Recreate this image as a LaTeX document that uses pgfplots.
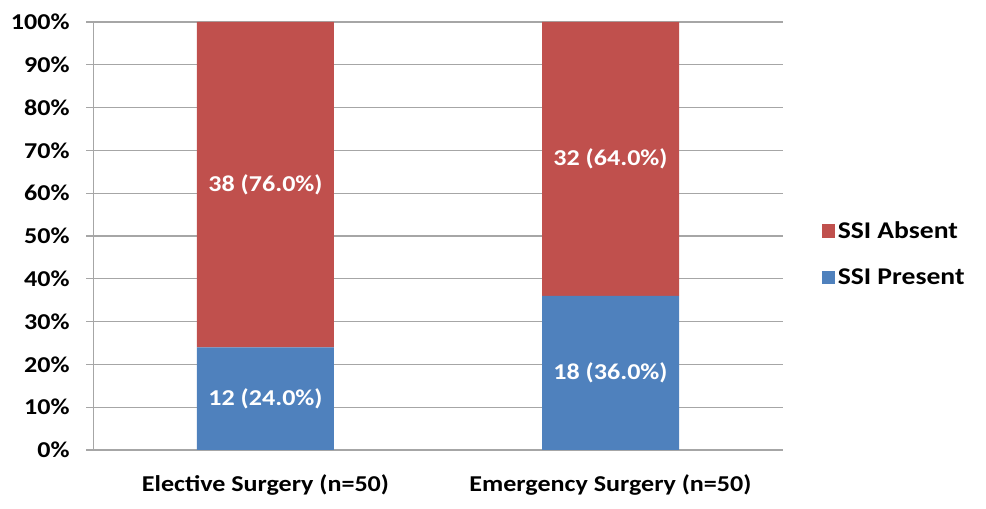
\documentclass[border=0pt]{standalone}
\usepackage{pgfplots}
\pgfplotsset{compat=1.18}
\usepackage{fontspec}
\setmainfont{Carlito}[FakeStretch=1.15]
\definecolor{ssired}{HTML}{C0504D}
\definecolor{ssiblue}{HTML}{4F81BD}
\definecolor{gridgray}{HTML}{A6A6A6}
\begin{document}
\begin{tikzpicture}
\begin{axis}[
  scale only axis, width=517.5pt, height=321pt,
  ybar stacked, bar width=102.75pt,
  xmin=-0.5, xmax=1.5, ymin=0, ymax=100,
  axis x line*=bottom, axis y line*=left,
  axis line style={gridgray,-},
  xtick={0,1}, xticklabels={Elective Surgery (n=50), Emergency Surgery (n=50)},
  extra x ticks={-0.5,0.5,1.5}, extra x tick labels={},
  extra x tick style={major tick length=7pt, tick style={gridgray}},
  x tick style={draw=none},
  ytick={0,10,...,100},
  yticklabel={\pgfmathprintnumber{\tick}\%},
  ymajorgrids, grid style={gridgray, line width=0.8pt},
  y tick style={gridgray, line width=0.8pt}, tick align=outside, major tick length=5pt,
  /pgf/number format/assume math mode=true,
  tick label style={font=\fontsize{17}{20}\selectfont\bfseries},
  yticklabel style={xshift=-9pt},
  xticklabel style={yshift=-10pt},
  legend style={at={(rel axis cs:1.05,0.458)}, anchor=west, draw=none,
    font=\fontsize{18}{21}\selectfont\bfseries, row sep=17pt},
  legend cell align=left,
  reverse legend,
  legend image code/.code={\fill[#1] (0pt,-5pt) rectangle (10pt,5pt);},
  clip=false,
]
\addplot[fill=ssiblue, draw=none] coordinates {(0,24) (1,36)};
\addlegendentry{SSI Present}
\addplot[fill=ssired, draw=none] coordinates {(0,76) (1,64)};
\addlegendentry{SSI Absent}
\coordinate (l1) at (axis cs:0,12);
\coordinate (l2) at (axis cs:0,62);
\coordinate (l3) at (axis cs:1,18);
\coordinate (l4) at (axis cs:1,68);
\end{axis}
\tikzset{bl/.style={text=white, font=\fontsize{17}{20}\selectfont\bfseries}}
\node[bl] at (l1) {12 (24.0\%)};
\node[bl] at (l2) {38 (76.0\%)};
\node[bl] at (l3) {18 (36.0\%)};
\node[bl] at (l4) {32 (64.0\%)};
\pgfresetboundingbox
\useasboundingbox (-69.75pt,-44.25pt) rectangle (669.75pt,337.5pt);
\end{tikzpicture}
\end{document}
